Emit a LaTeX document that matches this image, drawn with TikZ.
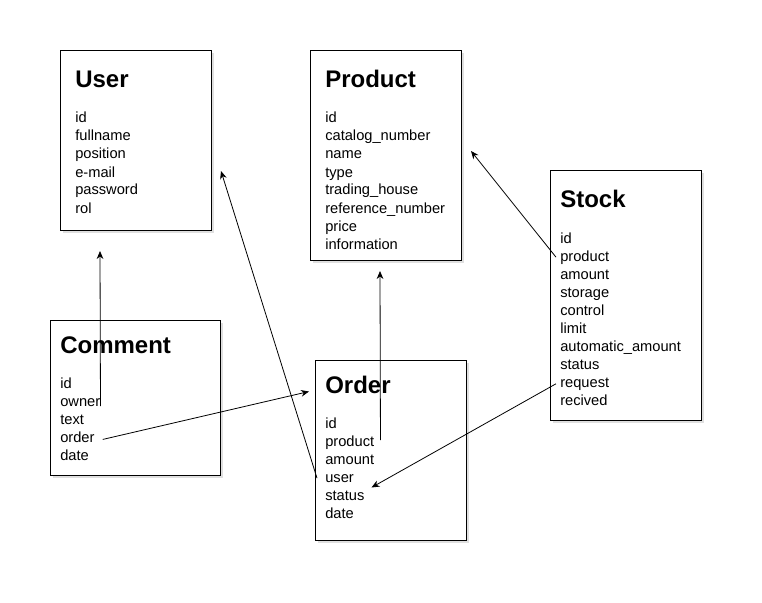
\documentclass[tikz,border=0pt]{standalone}
\usepackage{fontspec}
\setmainfont{Liberation Sans}
\usetikzlibrary{arrows.meta,shadows}

\tikzset{
	entityBox/.style={rectangle, draw=black, fill=white, line width=0.75pt, anchor=north west, inner sep=0pt, drop shadow={shadow xshift=1.6pt, shadow yshift=-1.6pt, opacity=0.25}},
	entityTitle/.style={anchor=base west, inner sep=0pt, font=\fontsize{18}{20}\selectfont\bfseries},
	entityField/.style={anchor=base west, inner sep=0pt, font=\fontsize{11}{13}\selectfont},
	relEdge/.style={-{Stealth[length=6pt, width=5pt]}, line width=0.6pt}
}

\begin{document}
\begin{tikzpicture}[x=0.75pt, y=-0.75pt]
		\useasboundingbox (0,0) rectangle (762,602);

		% draw entity boxes
		\node[entityBox, minimum width=113.25pt, minimum height=135pt](userBox) at (60,50){};
		\node[entityBox, minimum width=113.25pt, minimum height=157.5pt](productBox) at (310,50){};
		\node[entityBox, minimum width=113.25pt, minimum height=187.5pt](stockBox) at (550,170){};
		\node[entityBox, minimum width=127.5pt, minimum height=116.25pt](commentBox) at (50,320){};
		\node[entityBox, minimum width=113.25pt, minimum height=135pt](orderBox) at (315,360){};

		% User
		\node[entityTitle](userTitle) at (75,88){User};
		\node[entityField](uId) at (75,123){id};
		\node[entityField](uFullname) at (75,141){fullname};
		\node[entityField](uPosition) at (75,159){position};
		\node[entityField](uMail) at (75,177){e-mail};
		\node[entityField](uPassword) at (75,195){password};
		\node[entityField](uRol) at (75,213){rol};

		% Product
		\node[entityTitle](productTitle) at (325,88){Product};
		\node[entityField](pId) at (325,123){id};
		\node[entityField](pCatalog) at (325,141){catalog\_number};
		\node[entityField](pName) at (325,159){name};
		\node[entityField](pType) at (325,177){type};
		\node[entityField](pHouse) at (325,195){trading\_house};
		\node[entityField](pReference) at (325,213){reference\_number};
		\node[entityField](pPrice) at (325,231){price};
		\node[entityField](pInfo) at (325,249){information};

		% Stock
		\node[entityTitle](stockTitle) at (560,207){Stock};
		\node[entityField](sId) at (560,243){id};
		\node[entityField](sProduct) at (560,261){product};
		\node[entityField](sAmount) at (560,279){amount};
		\node[entityField](sStorage) at (560,297){storage};
		\node[entityField](sControl) at (560,315){control};
		\node[entityField](sLimit) at (560,333){limit};
		\node[entityField](sAutomatic) at (560,351){automatic\_amount};
		\node[entityField](sStatus) at (560,369){status};
		\node[entityField](sRequest) at (560,387){request};
		\node[entityField](sRecived) at (560,405){recived};

		% Comment
		\node[entityTitle](commentTitle) at (60,353){Comment};
		\node[entityField](cId) at (60,388){id};
		\node[entityField](cOwner) at (60,406){owner};
		\node[entityField](cText) at (60,424){text};
		\node[entityField](cOrder) at (60,442){order};
		\node[entityField](cDate) at (60,460){date};

		% Order
		\node[entityTitle](orderTitle) at (325,393){Order};
		\node[entityField](oId) at (325,428){id};
		\node[entityField](oProduct) at (325,446){product};
		\node[entityField](oAmount) at (325,464){amount};
		\node[entityField](oUser) at (325,482){user};
		\node[entityField](oStatus) at (325,500){status};
		\node[entityField](oDate) at (325,518){date};

		% arrow ends
		\coordinate (userIn) at (100,251);
		\coordinate (userSide) at (221,171);
		\coordinate (orderIn) at (309,391.5);
		\coordinate (productIn) at (380,271);
		\coordinate (productSide) at (471,151);
		\coordinate (statusIn) at (371.5,487.5);

		% draw relation edges
		\draw[relEdge] (cOwner.base east) -- (userIn);
		\draw[relEdge] ([xshift=6pt, yshift=-2pt]cOrder.east) -- (orderIn);
		\draw[relEdge] ([xshift=-6pt]oUser.west) -- (userSide);
		\draw[relEdge] ([xshift=4.5pt, yshift=1.5pt]oProduct.east) -- (productIn);
		\draw[relEdge] ([xshift=-3pt]sProduct.west) -- (productSide);
		\draw[relEdge] ([xshift=-3pt]sRequest.west) -- (statusIn);
	\end{tikzpicture}
\end{document}
